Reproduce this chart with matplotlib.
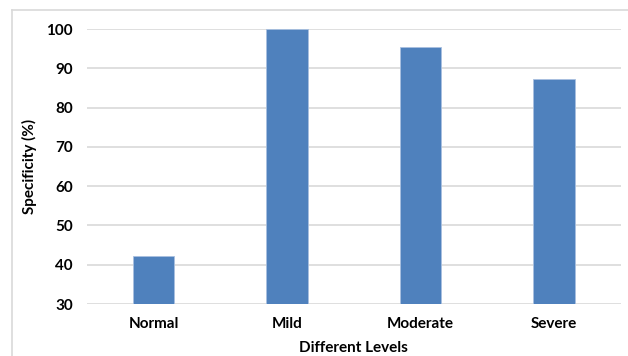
import matplotlib.pyplot as plt
from matplotlib.lines import Line2D

# chart data
levels = ['Normal', 'Mild', 'Moderate', 'Severe']
specificity = [42.3, 100.0, 95.4, 87.2]
y_ticks = [30, 40, 50, 60, 70, 80, 90, 100]

plt.rcParams['font.family'] = ['Lato', 'DejaVu Sans']
plt.rcParams['font.weight'] = 'bold'

fig = plt.figure(figsize=(6.28, 3.56), dpi=100)
ax = fig.add_axes([0.1385, 0.146, 0.850, 0.7725])

ax.set_axisbelow(True)
ax.grid(axis='y', color='#d9d9d9', linewidth=1.2)
ax.bar(range(len(levels)), specificity, width=0.31, bottom=0,
       color='#4f81bd', edgecolor='#a9c0e0', linewidth=0.6)

ax.set_xlim(-0.5, 3.5)
ax.set_ylim(30, 100)
ax.set_yticks(y_ticks)
ax.set_xticks(range(len(levels)))
ax.set_xticklabels(levels)
ax.tick_params(axis='both', length=0, labelsize=11)
ax.tick_params(axis='y', pad=10)
ax.tick_params(axis='x', pad=9)
for s in ax.spines.values():
    s.set_visible(False)

ax.set_ylabel('Specificity (%)', fontsize=11, fontweight='bold')
ax.set_xlabel('Different Levels', fontsize=11, fontweight='bold')
ax.yaxis.set_label_coords(-0.094, 0.5)
ax.xaxis.set_label_coords(0.5, -0.135)

# light frame like the chart area border
fig.add_artist(Line2D([12 / 628, 12 / 628], [0.0, 346 / 356], color='#d9d9d9', linewidth=1.2))
fig.add_artist(Line2D([12 / 628, 1.0], [346 / 356, 346 / 356], color='#d9d9d9', linewidth=1.2))

fig.savefig('out.png', dpi=100)
